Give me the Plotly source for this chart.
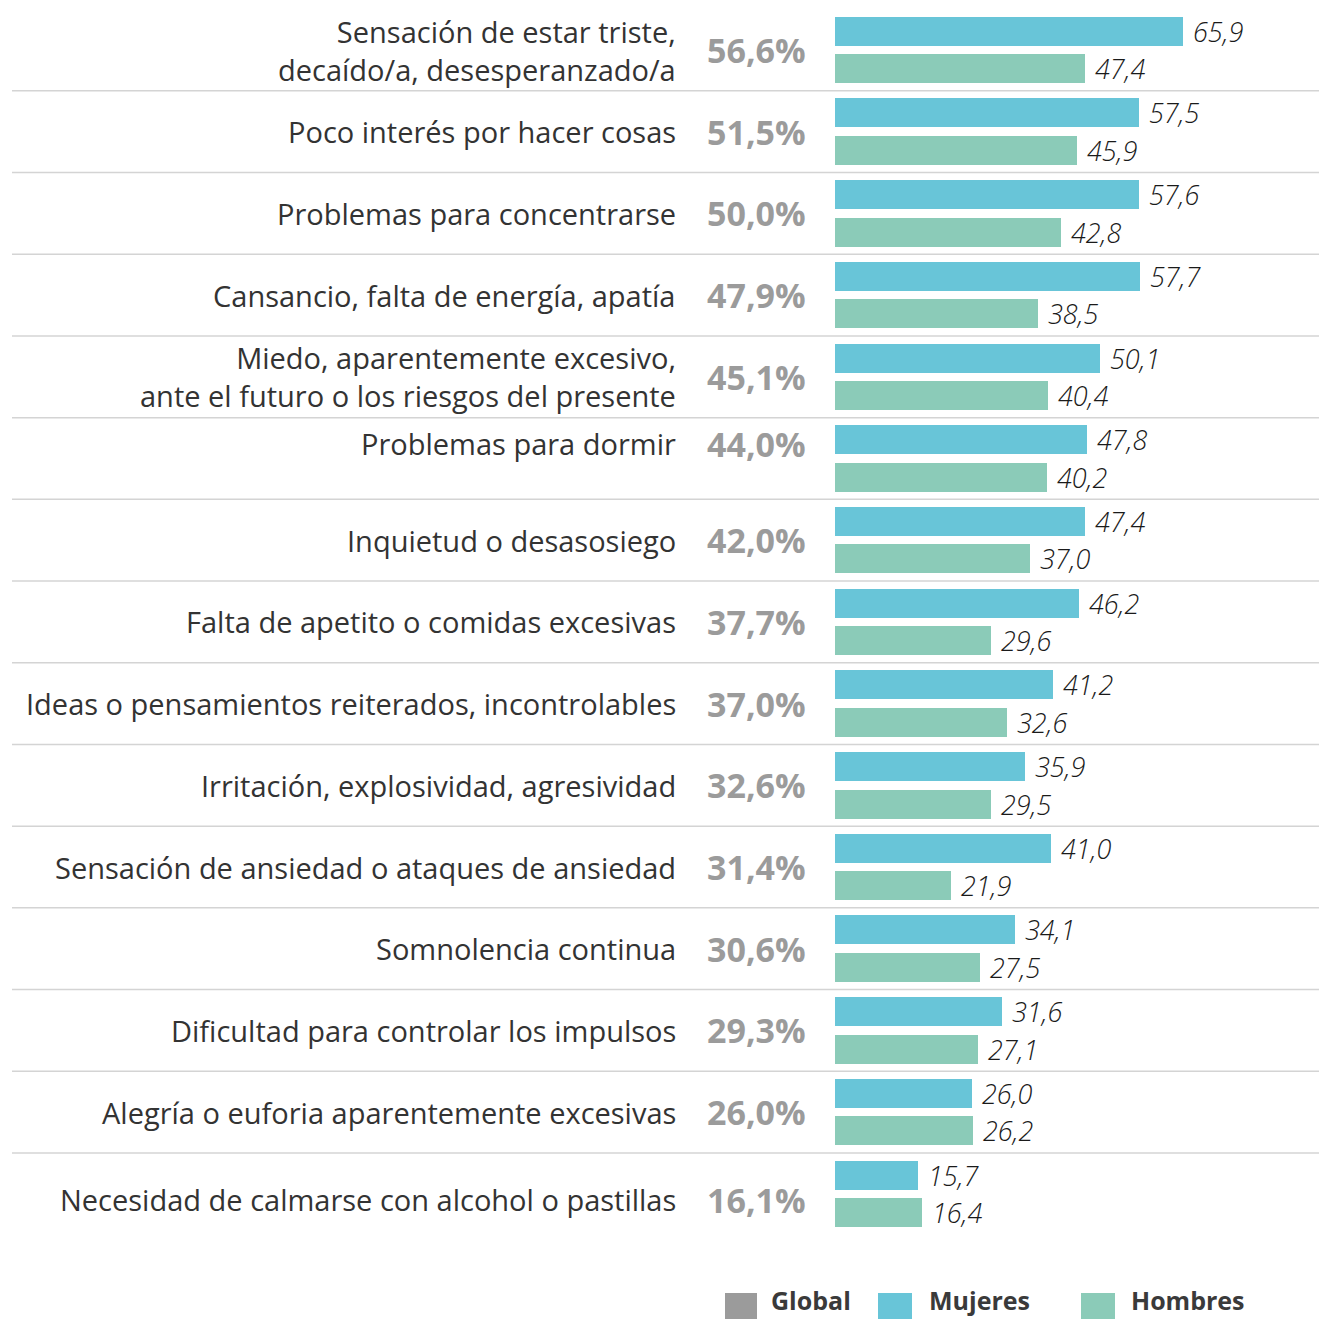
import plotly.graph_objects as go

categories = [
    "Sensación de estar triste,<br>decaído/a, desesperanzado/a",
    "Poco interés por hacer cosas",
    "Problemas para concentrarse",
    "Cansancio, falta de energía, apatía",
    "Miedo, aparentemente excesivo,<br>ante el futuro o los riesgos del presente",
    "Problemas para dormir",
    "Inquietud o desasosiego",
    "Falta de apetito o comidas excesivas",
    "Ideas o pensamientos reiterados, incontrolables",
    "Irritación, explosividad, agresividad",
    "Sensación de ansiedad o ataques de ansiedad",
    "Somnolencia continua",
    "Dificultad para controlar los impulsos",
    "Alegría o euforia aparentemente excesivas",
    "Necesidad de calmarse con alcohol o pastillas",
]
global_vals = [56.6, 51.5, 50.0, 47.9, 45.1, 44.0, 42.0, 37.7, 37.0, 32.6, 31.4, 30.6, 29.3, 26.0, 16.1]
mujeres = [65.9, 57.5, 57.6, 57.7, 50.1, 47.8, 47.4, 46.2, 41.2, 35.9, 41.0, 34.1, 31.6, 26.0, 15.7]
hombres = [47.4, 45.9, 42.8, 38.5, 40.4, 40.2, 37.0, 29.6, 32.6, 29.5, 21.9, 27.5, 27.1, 26.2, 16.4]
legend_names = ["Global", "Mujeres", "Hombres"]

W = H = 1319
BLUE = "#68C5D8"
GREEN = "#8BCBB8"
GRAY = "#9B9B9B"
FONT = "Open Sans"

def fmt(v):
    return f"{v:.1f}".replace(".", ",")

n = len(categories)
idx = list(range(n))
off = 0.23

val_font = dict(family=FONT, size=27, color="#1a1a1a", style="italic", weight=300)

fig = go.Figure()
fig.add_trace(go.Bar(
    y=[i - off for i in idx], x=mujeres, orientation="h", width=0.355,
    marker=dict(color=BLUE, line=dict(width=0)), name="Mujeres",
    text=[" " + fmt(v) for v in mujeres], textposition="outside",
    textfont=val_font, cliponaxis=False, constraintext="none", showlegend=False,
))
fig.add_trace(go.Bar(
    y=[i + off for i in idx], x=hombres, orientation="h", width=0.355,
    marker=dict(color=GREEN, line=dict(width=0)), name="Hombres",
    text=[" " + fmt(v) for v in hombres], textposition="outside",
    textfont=val_font, cliponaxis=False, constraintext="none", showlegend=False,
))

x0 = 835 / W
scale = 5.28
xmax = (W - 835) / scale
pitch = 81.7
c0 = 50.0
y_top = -c0 / pitch
y_bot = (H - c0) / pitch

# small vertical nudges (in pixels) of the left-hand labels, as in the original layout
label_nudge_px = {5: -15, 14: 6}

annotations = []
shapes = []
for i, (cat, g) in enumerate(zip(categories, global_vals)):
    yy = i + label_nudge_px.get(i, 0) / pitch
    annotations.append(dict(
        x=678 / W, xref="paper", y=yy, yref="y", text=cat, showarrow=False,
        xanchor="right", yanchor="middle", align="right",
        font=dict(family=FONT, size=29, color="#333333"),
    ))
    annotations.append(dict(
        x=756 / W, xref="paper", y=yy, yref="y", text=fmt(g) + "%", showarrow=False,
        xanchor="center", yanchor="middle",
        font=dict(family=FONT, size=34, color=GRAY, weight="bold"),
    ))
    if i < n - 1:
        shapes.append(dict(
            type="line", xref="paper", yref="y", x0=12 / W, x1=1.0, y0=i + 0.5, y1=i + 0.5,
            line=dict(color="#d4d4d4", width=1.5),
        ))

# legend
leg = [(725, 757, GRAY, 770), (878, 912, BLUE, 928), (1081, 1115, GREEN, 1130)]
for name, (sx0, sx1, col, tx) in zip(legend_names, leg):
    shapes.append(dict(type="rect", xref="paper", yref="paper",
                       x0=sx0 / W, x1=sx1 / W, y0=1 - 1319 / H, y1=1 - 1293 / H,
                       fillcolor=col, line=dict(width=0)))
    annotations.append(dict(
        x=tx / W, xref="paper", y=1 - 1318 / H, yref="paper", text=name, showarrow=False,
        xanchor="left", yanchor="bottom", borderpad=0,
        font=dict(family=FONT, size=25, color="#3a3a3a", weight="bold"),
    ))

fig.update_layout(
    width=W, height=H, margin=dict(l=0, r=0, t=0, b=0),
    paper_bgcolor="white", plot_bgcolor="white",
    barmode="overlay", bargap=0,
    xaxis=dict(domain=[x0, 1.0], range=[0, xmax], visible=False, fixedrange=True),
    yaxis=dict(range=[y_bot, y_top], visible=False, fixedrange=True),
    annotations=annotations, shapes=shapes,
    font=dict(family=FONT),
)

fig.write_html(
    "out.html",
    config={"displayModeBar": False},
    post_script="document.body.style.margin='0';document.body.style.overflow='hidden';",
)
